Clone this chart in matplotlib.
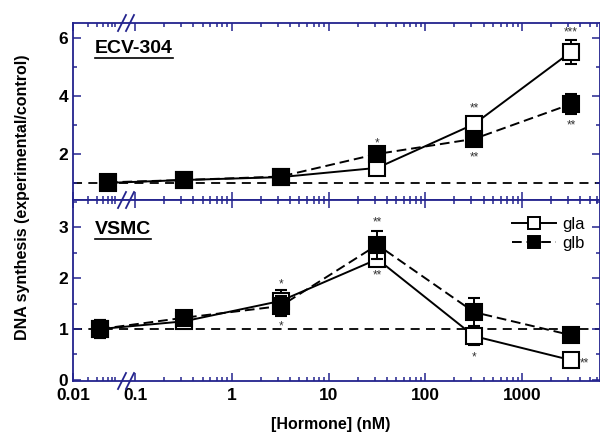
import numpy as np
import matplotlib
matplotlib.use('Agg')
import matplotlib.pyplot as plt
from matplotlib.lines import Line2D
from matplotlib.transforms import offset_copy

plt.rcParams['font.family'] = ['Liberation Sans', 'DejaVu Sans']

# ---------------- data ----------------
conc = [0.32, 3.2, 32, 320, 3200]
ctrl_x_top = 0.05
ctrl_x_bot = 0.035

ecv_gla = [1.0, 1.1, 1.2, 1.52, 3.03, 5.52]
ecv_gla_err = [0.05, 0.05, 0.05, 0.1, 0.25, 0.43]
ecv_glb = [1.02, 1.1, 1.22, 2.0, 2.52, 3.72]
ecv_glb_err = [0.05, 0.05, 0.05, 0.1, 0.15, 0.35]

vsmc_gla = [1.0, 1.15, 1.55, 2.37, 0.86, 0.39]
vsmc_gla_err = [0.17, 0.08, 0.22, 0.1, 0.17, 0.05]
vsmc_glb = [1.0, 1.22, 1.45, 2.65, 1.33, 0.88]
vsmc_glb_err = [0.17, 0.08, 0.2, 0.27, 0.27, 0.05]

# significance marks: (x, y, text)
ecv_marks = [(32, 2.48, '*'), (320, 3.66, '**'), (320, 1.97, '**'),
             (3200, 6.3, '***'), (3200, 3.1, '**')]
vsmc_marks = [(3.2, 1.93, '*'), (3.2, 1.1, '*'), (32, 3.15, '**'), (32, 2.1, '**'),
              (320, 0.51, '*'), (4400, 0.39, '**')]

major_ticks = [0.01, 0.1, 1, 10, 100, 1000]
major_labels = ['0.01', '0.1', '1', '10', '100', '1000']
minor_ticks = [0.02, 0.03, 0.04, 0.05, 0.06, 0.07,
               0.2, 0.3, 0.4, 0.5, 0.6, 0.7, 0.8, 0.9,
               2, 3, 4, 5, 6, 7, 8, 9,
               20, 30, 40, 50, 60, 70, 80, 90,
               200, 300, 400, 500, 600, 700, 800, 900,
               2000, 3000, 4000, 5000, 6000]

# ---------------- broken log scale ----------------
DEC = 96.75
K = 50 / DEC
U0 = -1 - (135 - 73) / DEC
LB1, LB2 = np.log10(0.07), np.log10(0.08)
UB1 = U0 + K * (LB1 + 2)
UB2 = LB2


def fwd(x):
    x = np.asarray(x, dtype=float)
    L = np.log10(np.clip(x, 1e-9, None))
    mid = UB1 + (L - LB1) * (UB2 - UB1) / (LB2 - LB1)
    return np.where(L <= LB1, U0 + K * (L + 2), np.where(L >= LB2, L, mid))


def inv(u):
    u = np.asarray(u, dtype=float)
    mid = LB1 + (u - UB1) * (LB2 - LB1) / (UB2 - UB1)
    L = np.where(u <= UB1, (u - U0) / K - 2, np.where(u >= UB2, u, mid))
    return 10 ** L


NAVY = '#23238e'
W, H = 600, 442
fig = plt.figure(figsize=(6, 4.42), dpi=100)
ax_top = fig.add_axes([73 / W, 1 - 200 / H, 527 / W, 177 / H])
ax_bot = fig.add_axes([73 / W, 1 - 381 / H, 527 / W, 181 / H])

mk = 11
DASH = (0, (5, 2.5))


def draw(ax, ctrl_x, gla, gla_err, glb, glb_err, marks):
    xs = [ctrl_x] + conc
    ax.axhline(1.0, color='black', lw=1.3, ls=(0, (5, 3.5)), zorder=1)
    ax.errorbar(xs, gla, yerr=gla_err, color='black', ls='-', lw=1.4,
                marker='s', ms=mk, mfc='white', mec='black', mew=1.5,
                ecolor='black', elinewidth=1.4, capsize=4, capthick=1.4,
                zorder=3)
    ax.errorbar(xs, glb, yerr=glb_err, color='black', ls=DASH, lw=1.4,
                marker='s', ms=mk, mfc='black', mec='black', mew=1.5,
                ecolor='black', elinewidth=1.4, capsize=4, capthick=1.4,
                zorder=4)
    tr = offset_copy(ax.transData, fig=fig, y=-3, units='dots')
    for x, y, t in marks:
        ax.text(x, y, t, ha='center', va='center', fontsize=8.5, color='#333333',
                transform=tr)
    ax.set_xscale('function', functions=(fwd, inv))
    ax.set_xlim(0.01, 6400)
    ax.set_xticks(major_ticks)
    ax.set_xticks(minor_ticks, minor=True)
    for s in ax.spines.values():
        s.set_color(NAVY)
        s.set_linewidth(1.3)
    ax.tick_params(which='both', direction='in', top=True, right=True,
                   color=NAVY, labelcolor='black', width=1.1)
    ax.tick_params(which='major', length=5.5, labelsize=12.5)
    ax.tick_params(which='minor', length=3.2)
    ax.tick_params(axis='x', which='major', pad=5)


draw(ax_top, ctrl_x_top, ecv_gla, ecv_gla_err, ecv_glb, ecv_glb_err, ecv_marks)
draw(ax_bot, ctrl_x_bot, vsmc_gla, vsmc_gla_err, vsmc_glb, vsmc_glb_err, vsmc_marks)

ax_top.set_ylim(0.41, 6.52)
ax_top.set_yticks([2, 4, 6])
ax_top.set_yticks([1, 3, 5], minor=True)
ax_top.set_xticklabels([])
ax_bot.set_ylim(-0.02, 3.53)
ax_bot.set_yticks([0, 1, 2, 3])
ax_bot.set_yticks([0.5, 1.5, 2.5, 3.5], minor=True)
ax_bot.set_xticklabels(major_labels)
for ax in (ax_top, ax_bot):
    for lab in ax.get_yticklabels() + ax.get_xticklabels():
        lab.set_fontweight('bold')
        lab.set_fontsize(12.5)

# panel labels (underlined)
for ax, txt, yy in ((ax_top, 'ECV-304', 0.855), (ax_bot, 'VSMC', 0.835)):
    t = ax.text(0.042, yy, txt, transform=ax.transAxes, fontsize=14,
                fontweight='bold', ha='left', va='center')
    fig.canvas.draw()
    bb = t.get_window_extent().transformed(ax.transAxes.inverted())
    ax.plot([bb.x0, bb.x1], [bb.y0 - 0.005, bb.y0 - 0.005], transform=ax.transAxes,
            color='black', lw=1.2, clip_on=False)

handles = [Line2D([], [], color='black', ls='-', lw=1.4, marker='s', ms=8,
                  mfc='white', mec='black', mew=1.4),
           Line2D([], [], color='black', ls=DASH, lw=1.4, marker='s', ms=8,
                  mfc='black', mec='black', mew=1.4)]
ax_bot.legend(handles, ['gla', 'glb'], loc='upper right', bbox_to_anchor=(1.0, 0.99),
              frameon=False, fontsize=12, handlelength=2.6,
              labelspacing=0.25, handletextpad=0.4)

# axis break marks
for yfig in (1 - 23 / H, 1 - 200 / H, 1 - 381 / H):
    for xpx in (122, 130):
        fig.add_artist(Line2D([(xpx - 4) / W, (xpx + 4) / W],
                              [yfig - 8 / H, yfig + 8 / H],
                              transform=fig.transFigure, color=NAVY, lw=1.3))

fig.text(23 / W, 1 - 197 / H, 'DNA synthesis (experimental/control)', rotation=90,
         ha='center', va='center', fontsize=11.5, fontweight='bold')
fig.text(331 / W, 1 - 425 / H, '[Hormone] (nM)', ha='center', va='center',
         fontsize=11.5, fontweight='bold')

fig.savefig('out.png', dpi=100)
